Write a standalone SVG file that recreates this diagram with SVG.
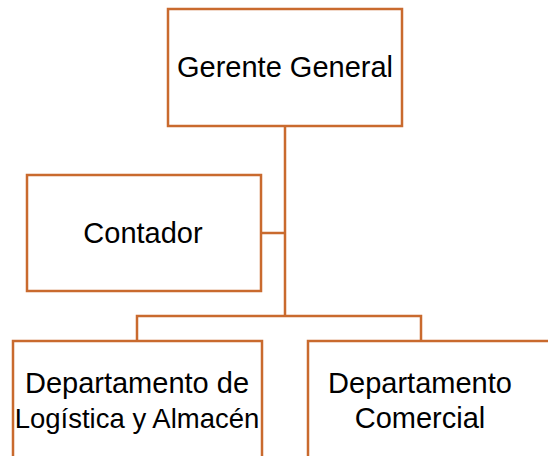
<svg xmlns="http://www.w3.org/2000/svg" width="548" height="456" viewBox="0 0 548 456">
<style>
.box{fill:#fff;stroke:#C96A2E;stroke-width:2.5}
.ln{fill:none;stroke:#C96A2E;stroke-width:2.5}
.t{font-family:"Liberation Sans",Arial,sans-serif;font-size:29px;fill:#000;text-anchor:middle}
.s{font-size:27.5px}
</style>
<rect width="548" height="456" fill="#fff"/>
<g id="connectors">
<path class="ln" d="M285 126V316M261 233H285M137 341V316H421V341"/>
</g>
<g id="gerente">
<rect class="box" x="168" y="9" width="234" height="117"/>
<text class="t" x="285" y="77">Gerente General</text>
</g>
<g id="contador">
<rect class="box" x="27" y="175" width="234" height="116"/>
<text class="t" x="143" y="243">Contador</text>
</g>
<g id="logistica">
<rect class="box" x="13" y="341" width="249" height="130"/>
<text class="t" x="137" y="393">Departamento de</text>
<text class="t s" x="137" y="428">Logística y Almacén</text>
</g>
<g id="comercial">
<rect class="box" x="308" y="341" width="260" height="130"/>
<text class="t" x="420" y="393">Departamento</text>
<text class="t" x="420" y="428">Comercial</text>
</g>
</svg>
